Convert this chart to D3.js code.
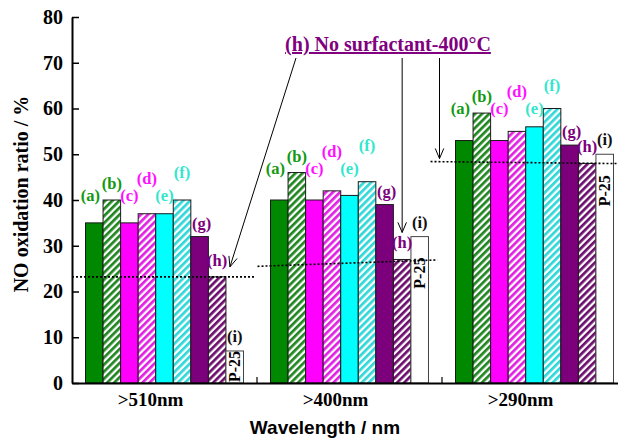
<!DOCTYPE html>
<html>
<head>
<meta charset="utf-8">
<script src="https://cdn.jsdelivr.net/npm/d3@7"></script>
<style>
  body { margin: 0; background: #fff; }
  svg text { font-family: "Liberation Serif", "Times New Roman", serif; font-weight: bold; }
</style>
</head>
<body>
<svg id="chart" width="618" height="439"></svg>
<script>
// data
var groups = [">510nm", ">400nm", ">290nm"];
var series = ["a", "b", "c", "d", "e", "f", "g", "h", "i"];
var ratioA = [35, 40, 53];
var ratioB = [40, 46, 59];
var ratioC = [35, 40, 53];
var ratioD = [37, 42, 55];
var ratioE = [37, 41, 56];
var ratioF = [40, 44, 60];
var ratioG = [32, 39, 52];
var ratioH = [23.2, 27, 48];
var ratioI = [7, 32, 50];
// dotted reference (no surfactant-400°C level), start / end per group
var refStart = [23.2, 25.5, 48.4];
var refEnd = [23.2, 26.9, 47.9];
var yTicks = [0, 10, 20, 30, 40, 50, 60, 70, 80];

var values = [ratioA, ratioB, ratioC, ratioD, ratioE, ratioF, ratioG, ratioH, ratioI];

// styling
var fills = {a: "#008800", b: "url(#hatch-b)", c: "#ff00ff", d: "url(#hatch-d)", e: "#00ffff",
  f: "url(#hatch-f)", g: "#7c007c", h: "url(#hatch-h)", i: "#ffffff"};
var hatchColors = {b: "#1f861f", d: "#e21ee2", f: "#2fd8d8", h: "#6c0c6c"};
var labelColors = {a: "#119a11", b: "#119a11", c: "#ff11ff", d: "#ff11ff", e: "#33e6cc",
  f: "#33e6cc", g: "#7c007c", h: "#7c007c", i: "#111"};

var svg = d3.select("#chart");

var y = d3.scaleLinear().domain([0, 80]).range([383, 17]);
var x0 = d3.scaleBand().domain(groups).range([72, 627]).paddingInner(0.146).paddingOuter(0.073);
var x1 = d3.scaleBand().domain(series).range([0, x0.bandwidth()]);

// hatch patterns
var defs = svg.append("defs");
Object.keys(hatchColors).forEach(function(k){
  var p = defs.append("pattern")
    .attr("id", "hatch-" + k)
    .attr("patternUnits", "userSpaceOnUse")
    .attr("width", 5).attr("height", 5)
    .attr("patternTransform", "rotate(45)");
  p.append("rect").attr("width", 5).attr("height", 5).attr("fill", "#fff");
  p.append("rect").attr("width", 2.7).attr("height", 5).attr("fill", hatchColors[k]);
});

// bars
var rows = [];
groups.forEach(function(g, gi){
  series.forEach(function(s, si){
    rows.push({group: g, gi: gi, key: s, value: values[si][gi]});
  });
});

svg.append("g").selectAll("rect")
  .data(rows)
  .enter().append("rect")
  .attr("x", d => x0(d.group) + x1(d.key))
  .attr("y", d => y(d.value))
  .attr("width", x1.bandwidth())
  .attr("height", d => y(0) - y(d.value))
  .attr("fill", d => fills[d.key])
  .attr("stroke", d => d.key == "i" ? "#444" : "#1a1a1a")
  .attr("stroke-width", 1);

// letter labels: a-f sit around the level of the (b) bar, g-i above their own bar
function labelY(d){
  var top = y(d.value);
  var bTop = y(ratioB[d.gi]);
  switch(d.key){
    case "a": case "c": case "e": return bTop + 1;
    case "b": return bTop - 11;
    case "d": return bTop - 16;
    case "f": return bTop - 22;
    case "g": return top - 8;
    case "h": return top - 11;
    case "i": return top - 9;
  }
}

svg.append("g").selectAll("text")
  .data(rows)
  .enter().append("text")
  .attr("x", d => x0(d.group) + x1(d.key) + x1.bandwidth() / 2 + (d.key == "a" ? -4 : (d.key == "g" ? 2 : 0)))
  .attr("y", labelY)
  .attr("text-anchor", "middle")
  .attr("font-size", 16.5)
  .attr("fill", d => labelColors[d.key])
  .text(d => "(" + d.key + ")");

// P-25 text inside the (i) bars
svg.append("g").selectAll("text")
  .data(rows.filter(d => d.key == "i"))
  .enter().append("text")
  .attr("transform", function(d){
    var cx = x0(d.group) + x1(d.key) + x1.bandwidth() / 2;
    var yEnd = Math.min(y(d.value) + 21, y(0) - 32);
    return "translate(" + cx + "," + yEnd + ") rotate(-90)";
  })
  .attr("text-anchor", "end")
  .attr("dy", "0.35em")
  .attr("font-size", 16)
  .attr("fill", "#000")
  .text("P-25");

// dotted reference lines
var overhang = [[13.5, 12], [13, 9], [25, 30]];
svg.append("g").selectAll("line")
  .data(groups)
  .enter().append("line")
  .attr("x1", (g, i) => x0(g) - overhang[i][0])
  .attr("x2", (g, i) => x0(g) + x0.bandwidth() + overhang[i][1])
  .attr("y1", (g, i) => y(refStart[i]))
  .attr("y2", (g, i) => y(refEnd[i]))
  .attr("stroke", "#000")
  .attr("stroke-width", 1.6)
  .attr("stroke-dasharray", "2,2");

// y axis (inward ticks)
var yAxis = svg.append("g")
  .attr("transform", "translate(72,0)")
  .call(d3.axisLeft(y).tickValues(yTicks).tickSizeInner(-7).tickSizeOuter(0).tickPadding(9));
yAxis.select(".domain").attr("stroke", "#000").attr("stroke-width", 2);
yAxis.selectAll(".tick line").attr("stroke", "#000").attr("stroke-width", 1.5);
yAxis.selectAll(".tick text")
  .attr("font-family", "Liberation Serif, serif")
  .attr("font-weight", "bold")
  .attr("font-size", 20)
  .attr("fill", "#000");

// x axis
var xAxis = svg.append("g")
  .attr("transform", "translate(0," + y(0) + ")")
  .call(d3.axisBottom(x0).tickSize(0).tickPadding(10));
xAxis.select(".domain").attr("stroke", "#000").attr("stroke-width", 2);
xAxis.selectAll(".tick text")
  .attr("dx", -14)
  .attr("font-family", "Liberation Serif, serif")
  .attr("font-weight", "bold")
  .attr("font-size", 19)
  .attr("fill", "#000");

// inward ticks between the groups
svg.append("g").selectAll("line")
  .data(groups.slice(1))
  .enter().append("line")
  .attr("x1", g => x0(g) - x0.step() * x0.paddingInner() / 2)
  .attr("x2", g => x0(g) - x0.step() * x0.paddingInner() / 2)
  .attr("y1", y(0))
  .attr("y2", y(0) - 6)
  .attr("stroke", "#000")
  .attr("stroke-width", 1.2);

// axis titles
svg.append("text")
  .attr("transform", "translate(21,194) rotate(-90)")
  .attr("text-anchor", "middle")
  .attr("dy", "0.35em")
  .attr("font-size", 20)
  .attr("fill", "#000")
  .text("NO oxidation ratio / %");

svg.append("text")
  .attr("x", 325)
  .attr("y", 434)
  .attr("text-anchor", "middle")
  .style("font-family", "'Liberation Sans', Arial, sans-serif")
  .attr("font-size", 19)
  .attr("fill", "#000")
  .text("Wavelength / nm");

// annotation: title + arrows to the no-surfactant levels
svg.append("text")
  .attr("x", 388)
  .attr("y", 51)
  .attr("text-anchor", "middle")
  .attr("font-size", 20)
  .attr("fill", "#800080")
  .attr("text-decoration", "underline")
  .text("(h) No surfactant-400°C");

var hw = x1.bandwidth();
var tips = [
  [x0(groups[0]) + x1("h") + hw + 4, y(ratioH[0]) - 10],
  [x0(groups[1]) + x1("h") + hw / 2, y(ratioH[1]) - 27],
  [x0(groups[2]) - 16, y(refStart[2]) - 3]
];
var starts = [[296, 58], [tips[1][0], 58], [tips[2][0], 58]];

function arrowHead(from, to){
  var ang = Math.atan2(to[1] - from[1], to[0] - from[0]);
  var len = 11, spread = 0.4;
  var p1 = [to[0] - len * Math.cos(ang - spread), to[1] - len * Math.sin(ang - spread)];
  var p2 = [to[0] - len * Math.cos(ang + spread), to[1] - len * Math.sin(ang + spread)];
  return "M" + p1 + "L" + to + "L" + p2;
}

var arrows = svg.append("g").attr("fill", "none").attr("stroke", "#000").attr("stroke-width", 1);
tips.forEach(function(t, i){
  arrows.append("line")
    .attr("x1", starts[i][0]).attr("y1", starts[i][1])
    .attr("x2", t[0]).attr("y2", t[1]);
  arrows.append("path").attr("d", arrowHead(starts[i], t));
});
</script>
</body>
</html>
